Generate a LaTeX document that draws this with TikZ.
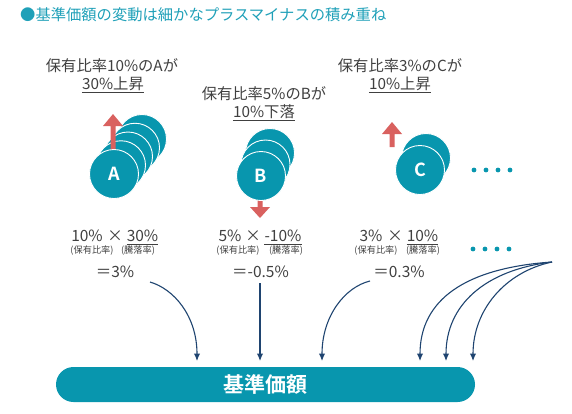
\documentclass[tikz,border=0pt]{standalone}
\usepackage{fontspec}
\setmainfont{Noto Sans CJK JP}
\newfontfamily\barfont{Noto Sans CJK JP Bold}
\usetikzlibrary{arrows.meta}
\definecolor{coinc}{HTML}{0896AE}
\definecolor{titlec}{HTML}{1FA0B8}
\definecolor{redc}{HTML}{D9615F}
\definecolor{navyc}{HTML}{1F4470}
\definecolor{textc}{HTML}{404040}
\tikzset{
  lbl/.style={inner sep=0pt, text=textc, font=\fontsize{15.3}{17}\selectfont},
  num/.style={inner sep=0pt, text=textc, font=\fontsize{15.5}{17}\selectfont},
  sub/.style={inner sep=0pt, text=textc, font=\fontsize{9.2}{10}\selectfont},
  coin/.style={circle, fill=coinc, draw=white, line width=0.9pt, minimum size=49pt, inner sep=0pt, text=white, font=\barfont\fontsize{18}{18}\selectfont},
  uline/.style={draw=textc, line width=0.8pt},
  redarrow/.style={fill=redc, draw=none},
  flow/.style={draw=navyc, line width=1.1pt, -{Latex[length=7.5pt,width=6.5pt]}},
  dot/.style={circle, fill=coinc, inner sep=0pt, minimum size=4.8pt}
}
\begin{document}
\begin{tikzpicture}[x=1pt,y=-1pt]
\useasboundingbox (0,0) rectangle (572,413);

% title
\node[anchor=west, inner sep=0pt, text=titlec, font=\fontsize{15.3}{17}\selectfont] (title) at (20,15) {●基準価額の変動は細かなプラスマイナスの積み重ね};

% labels
\node[lbl] (la1) at (112,66) {保有比率10\%のAが};
\node[lbl] (la2) at (113,84) {30\%上昇};
\draw[uline] ([yshift=-2.5pt]la2.base west) -- ([yshift=-2.5pt]la2.base east);
\node[lbl] (lb1) at (264,94) {保有比率5\%のBが};
\node[lbl] (lb2) at (264,112) {10\%下落};
\draw[uline] ([yshift=-2.5pt]lb2.base west) -- ([yshift=-2.5pt]lb2.base east);
\node[lbl] (lc1) at (400,66) {保有比率3\%のCが};
\node[lbl] (lc2) at (400,84) {10\%上昇};
\draw[uline] ([yshift=-2.5pt]lc2.base west) -- ([yshift=-2.5pt]lc2.base east);

% coins A
\node[coin] (a4) at (142,139) {};
\node[coin] (a3) at (135,147.75) {};
\node[coin] (a2) at (128,156.5) {};
\node[coin] (a1) at (121,165.25) {};
\fill[redarrow] (113,114) -- (123,126) -- (115.5,126) -- (115.5,156) -- (110.5,156) -- (110.5,126) -- (103,126) -- cycle;
\node[coin] (a) at (114,174) {A};

% coins B
\node[coin] (b2) at (270,153) {};
\node[coin] (b1) at (265.5,164.5) {};
\fill[redarrow] (260,218) -- (270,207) -- (262.5,207) -- (262.5,192) -- (257.5,192) -- (257.5,207) -- (250,207) -- cycle;
\node[coin] (b) at (261,176) {B};

% coins C
\node[coin] (c1) at (426,158) {};
\node[coin] (c) at (420,170) {C};
\fill[redarrow] (392,122) -- (402,134) -- (394.5,134) -- (394.5,147) -- (389.5,147) -- (389.5,134) -- (382,134) -- cycle;

% dots
\foreach \i/\x in {1/474,2/486,3/498,4/510} {\node[dot] (d\i) at (\x,170) {};}
\foreach \i/\x in {1/473,2/485,3/497,4/509} {\node[dot] (e\i) at (\x,249) {};}

% formulas A
\node[num] (fa1) at (87,236) {10\%};
\node[num] (fax) at (115,236) {×};
\node[num] (fa2) at (142.5,236) {30\%};
\draw[uline] ([yshift=-2.5pt]fa2.base west) -- ([yshift=-2.5pt]fa2.base east);
\node[sub] (sa1) at (92,251) {(保有比率)};
\node[sub] (sa2) at (138,251) {(騰落率)};
\node[num] (ra) at (115,272) {＝3\%};

% formulas B
\node[num] (fb1) at (230,236) {5\%};
\node[num] (fbx) at (253,236) {×};
\node[num] (fb2) at (283,236) {-10\%};
\draw[uline] ([yshift=-2.5pt]fb2.base west) -- ([yshift=-2.5pt]fb2.base east);
\node[sub] (sb1) at (238,251) {(保有比率)};
\node[sub] (sb2) at (286,251) {(騰落率)};
\node[num] (rb) at (260.5,272) {＝-0.5\%};

% formulas C
\node[num] (fc1) at (371,236) {3\%};
\node[num] (fcx) at (395,236) {×};
\node[num] (fc2) at (422.5,236) {10\%};
\draw[uline] ([yshift=-2.5pt]fc2.base west) -- ([yshift=-2.5pt]fc2.base east);
\node[sub] (sc1) at (376,251) {(保有比率)};
\node[sub] (sc2) at (423,251) {(騰落率)};
\node[num] (rc) at (399,272) {＝0.3\%};

% bar
\node[rounded corners=17.5pt, fill=coinc, minimum width=419pt, minimum height=35pt, inner sep=0pt, text=white, font=\barfont\fontsize{21}{21}\selectfont] (bar) at (265.5,384.5) {基準価額};

% connector coordinates
\coordinate (sA) at (150,282);
\coordinate (sB) at (260,283);
\coordinate (sC) at (370,281);
\coordinate (sR) at (552,262);
\coordinate (eA) at (197,361);
\coordinate (eB) at (260,361);
\coordinate (eC) at (322,361);
\coordinate (eR1) at (420,361);
\coordinate (eR2) at (446,361);
\coordinate (eR3) at (473,361);

\draw[flow] (sA) .. controls (174,289) and (197,316) .. (eA);
\draw[flow] (sB) -- (eB);
\draw[flow] (sC) .. controls (345,287) and (322,316) .. (eC);
\draw[flow] (sR) .. controls (465,268) and (420,300) .. (eR1);
\draw[flow] (sR) .. controls (485,270) and (446,305) .. (eR2);
\draw[flow] (sR) .. controls (505,272) and (473,310) .. (eR3);
\end{tikzpicture}
\end{document}
